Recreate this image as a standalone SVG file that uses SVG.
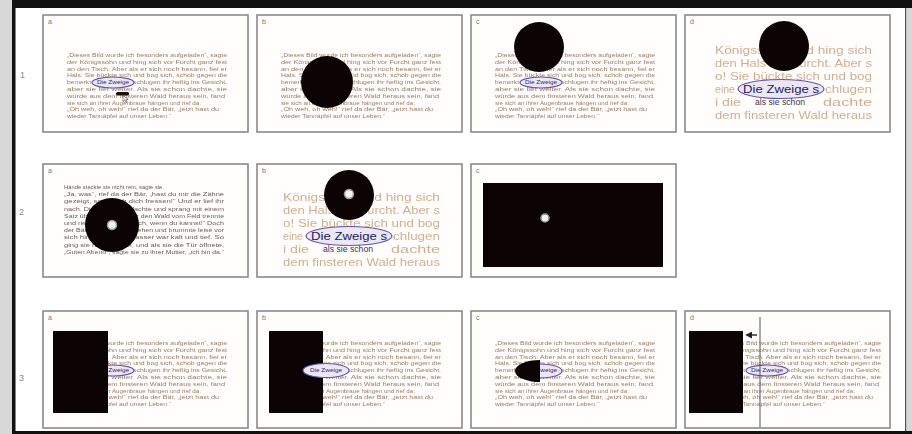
<svg xmlns="http://www.w3.org/2000/svg" xmlns:xlink="http://www.w3.org/1999/xlink" width="912" height="434" viewBox="0 0 912 434">
<style>
.pan{fill:#fffefc;stroke:#8a8a8a;stroke-width:1.6}
.lab{font-family:"Liberation Sans",Arial,sans-serif;font-size:7px;fill:#777}
.row{font-family:"Liberation Sans",Arial,sans-serif;font-size:9px;fill:#8a8a8a}
.sm{font-family:"Liberation Sans",Arial,sans-serif;font-size:5.4px;fill:#9c7c68}
.sm2{font-family:"Liberation Sans",Arial,sans-serif;font-size:5.4px;fill:#6a5c58}
.hl{font-family:"Liberation Sans",Arial,sans-serif;font-size:5.4px;fill:#2b2a6e}
.big{font-family:"Liberation Sans",Arial,sans-serif;font-size:10.5px;fill:#d2ae90}
.bighl{font-family:"Liberation Sans",Arial,sans-serif;font-size:11px;fill:#22225a}
.bigdk{font-family:"Liberation Sans",Arial,sans-serif;font-size:9px;fill:#3a3550}
.blk{fill:#0c0404}
.ell{fill:#ebe7f6;stroke:#6656a8;stroke-width:1.2}
.hole{fill:#f2f2f2;stroke:#9a9a9a;stroke-width:1.5}
</style>
<defs>
<filter id="bl" x="-5%" y="-40%" width="110%" height="180%"><feGaussianBlur stdDeviation="0.7"/></filter>
<filter id="bs" x="-2%" y="-5%" width="104%" height="110%"><feGaussianBlur stdDeviation="0.3"/></filter>
<marker id="ah" viewBox="0 0 6 6" refX="1" refY="3" markerWidth="5" markerHeight="5" orient="auto-start-reverse"><path d="M0,0 L6,3 L0,6 Z" fill="#222"/></marker>
<g id="p1" class="sm" filter="url(#bs)">
<text x="0" y="0" textLength="160" lengthAdjust="spacingAndGlyphs">„Dieses Bild wurde ich besonders aufgeladen“, sagte</text>
<text x="0" y="6.8" textLength="160" lengthAdjust="spacingAndGlyphs">der Königssohn und hing sich vor Furcht ganz fest</text>
<text x="0" y="13.6" textLength="160" lengthAdjust="spacingAndGlyphs">an den Tisch. Aber als er sich noch besann, fiel er</text>
<text x="0" y="20.4" textLength="160" lengthAdjust="spacingAndGlyphs">Hals. Sie bückte sich und bog sich, schob gegen die</text>
<text x="0" y="27.2" textLength="24" lengthAdjust="spacingAndGlyphs">bemerkt</text>
<text x="66" y="27.2" textLength="94" lengthAdjust="spacingAndGlyphs">schlugen ihr heftig ins Gesicht,</text>
<text x="0" y="34" textLength="160" lengthAdjust="spacingAndGlyphs">aber sie lief weiter. Als sie schon dachte, sie</text>
<text x="0" y="40.8" textLength="158" lengthAdjust="spacingAndGlyphs">würde aus dem finsteren Wald heraus sein, fand</text>
<text x="0" y="47.6" textLength="134" lengthAdjust="spacingAndGlyphs">sie sich an ihrer Augenbraue hängen und rief da:</text>
<text x="0" y="54.4" textLength="152" lengthAdjust="spacingAndGlyphs">„Oh weh, oh weh!“ rief da der Bär, „jetzt hast du</text>
<text x="0" y="61.2" textLength="104" lengthAdjust="spacingAndGlyphs">wieder Tannäpfel auf unser Leben.“</text>
</g>
<text id="dz" class="hl" x="30" y="27.2" textLength="32" lengthAdjust="spacingAndGlyphs">Die Zweige</text>
<g id="p2" class="sm2" filter="url(#bs)">
<text x="0" y="0" textLength="100" lengthAdjust="spacingAndGlyphs">Hände steckte sie nicht rein, sagte sie.</text>
<text x="0" y="7.2" textLength="160" lengthAdjust="spacingAndGlyphs">„Ja, was“, rief da der Bär, „hast du mir die Zähne</text>
<text x="0" y="14.4" textLength="160" lengthAdjust="spacingAndGlyphs">gezeigt, so will ich dich fressen!“ Und er lief ihr</text>
<text x="0" y="21.6" textLength="160" lengthAdjust="spacingAndGlyphs">nach. Die Hexe aber lachte und sprang mit einem</text>
<text x="0" y="28.8" textLength="160" lengthAdjust="spacingAndGlyphs">Satz über den Bach, der den Wald vom Feld trennte</text>
<text x="0" y="36" textLength="160" lengthAdjust="spacingAndGlyphs">und rief: „Fang mich doch, wenn du kannst!“ Doch</text>
<text x="0" y="43.2" textLength="160" lengthAdjust="spacingAndGlyphs">der Bär blieb am Ufer stehen und brummte leise vor</text>
<text x="0" y="50.4" textLength="160" lengthAdjust="spacingAndGlyphs">sich hin, denn das Wasser war kalt und tief. So</text>
<text x="0" y="57.6" textLength="160" lengthAdjust="spacingAndGlyphs">ging sie nach Hause, und als sie die Tür öffnete,</text>
<text x="0" y="64.8" textLength="160" lengthAdjust="spacingAndGlyphs">„Guten Abend“, sagte sie zu ihrer Mutter, „ich bin da.“</text>
</g>
<g id="p3" class="big" filter="url(#bl)">
<text x="0" y="0" textLength="157" lengthAdjust="spacingAndGlyphs">Königssohn und hing sich</text>
<text x="0" y="13" textLength="157" lengthAdjust="spacingAndGlyphs">den Hals vor Furcht. Aber s</text>
<text x="0" y="26" textLength="157" lengthAdjust="spacingAndGlyphs">o! Sie bückte sich und bog</text>
<text x="0" y="39" textLength="20" lengthAdjust="spacingAndGlyphs">eine</text>
<text x="110" y="39" textLength="47" lengthAdjust="spacingAndGlyphs">chlugen</text>
<text x="0" y="52" textLength="26" lengthAdjust="spacingAndGlyphs">i die</text>
<text x="108" y="52" textLength="49" lengthAdjust="spacingAndGlyphs">dachte</text>
<text x="0" y="65" textLength="157" lengthAdjust="spacingAndGlyphs">dem finsteren Wald heraus</text>
</g>
<g id="p3hl">
<text class="bighl" x="28" y="39" textLength="76" lengthAdjust="spacingAndGlyphs">Die Zweige s</text>
<text class="bigdk" x="40" y="51" textLength="50" lengthAdjust="spacingAndGlyphs">als sie schon</text>
</g>
</defs>

<g id="frame">
<rect x="0" y="0" width="912" height="434" fill="#ffffff"/>
<rect x="0" y="0" width="12" height="434" fill="#d8d8d8"/>
<rect x="12" y="0" width="3.5" height="434" fill="#111"/>
<rect x="12" y="0" width="900" height="8" fill="#111"/>
<rect x="12" y="431" width="900" height="3" fill="#111"/>
<rect x="905" y="8" width="1.5" height="423" fill="#555"/>
<rect x="906.5" y="8" width="5.5" height="423" fill="#d8d8d8"/>
<text class="row" x="20" y="78">1</text>
<text class="row" x="19" y="215">2</text>
<text class="row" x="19" y="381">3</text>
</g>

<g id="r1a">
<rect class="pan" x="43" y="15" width="205" height="117"/>
<text class="lab" x="48" y="24">a</text>
<use xlink:href="#p1" x="67" y="57"/>
<ellipse class="ell" cx="113" cy="82.5" rx="21" ry="5.5"/>
<use xlink:href="#dz" x="67" y="57"/>
<rect x="116" y="92" width="13" height="3.5" rx="1.5" fill="#1a1010"/>
<path d="M123,95.5 l0,6 l1.8,-1.6 l1.4,2.8 l1,-0.5 l-1.4,-2.7 l2.4,-0.2 Z" fill="#fff" stroke="#444" stroke-width="0.6"/>
</g>

<g id="r1b">
<rect class="pan" x="257" y="15" width="205" height="117"/>
<text class="lab" x="262" y="24">b</text>
<use xlink:href="#p1" x="281" y="57"/>
<ellipse class="ell" cx="327" cy="82.5" rx="21" ry="5.5"/>
<use xlink:href="#dz" x="281" y="57"/>
<circle class="blk" cx="327" cy="82" r="26"/>
</g>

<g id="r1c">
<rect class="pan" x="471" y="15" width="205" height="117"/>
<text class="lab" x="476" y="24">c</text>
<use xlink:href="#p1" x="495" y="57"/>
<ellipse class="ell" cx="541" cy="82.5" rx="21" ry="5.5"/>
<use xlink:href="#dz" x="495" y="57"/>
<circle class="blk" cx="539" cy="47" r="25"/>
</g>

<g id="r1d">
<rect class="pan" x="685" y="15" width="205" height="117"/>
<text class="lab" x="690" y="24">d</text>
<use xlink:href="#p3" x="715" y="54"/>
<ellipse class="ell" cx="781" cy="89" rx="43" ry="9.5"/>
<use xlink:href="#p3hl" x="715" y="54"/>
<circle class="blk" cx="784" cy="46" r="25"/>
</g>

<g id="r2a">
<rect class="pan" x="43" y="164" width="205" height="113"/>
<text class="lab" x="48" y="173">a</text>
<use xlink:href="#p2" x="64" y="189"/>
<circle class="blk" cx="112" cy="225" r="27"/>
<circle class="hole" cx="112" cy="225" r="4.5"/>
</g>

<g id="r2b">
<rect class="pan" x="257" y="164" width="205" height="113"/>
<text class="lab" x="262" y="173">b</text>
<use xlink:href="#p3" x="283" y="201"/>
<ellipse class="ell" cx="349" cy="236" rx="43" ry="9.5"/>
<use xlink:href="#p3hl" x="283" y="201"/>
<circle class="blk" cx="349" cy="195" r="25"/>
<circle class="hole" cx="349" cy="194" r="4.5"/>
</g>

<g id="r2c">
<rect class="pan" x="471" y="164" width="205" height="113"/>
<text class="lab" x="476" y="173">c</text>
<rect class="blk" x="483" y="183" width="180" height="84"/>
<circle class="hole" cx="545" cy="218" r="4"/>
</g>

<g id="r3a">
<rect class="pan" x="43" y="311" width="205" height="117"/>
<text class="lab" x="48" y="320">a</text>
<use xlink:href="#p1" x="67" y="345"/>
<ellipse class="ell" cx="113" cy="370.5" rx="21" ry="5.5"/>
<use xlink:href="#dz" x="67" y="345"/>
<rect class="blk" x="53" y="331" width="55" height="82"/>
</g>

<g id="r3b">
<rect class="pan" x="257" y="311" width="205" height="117"/>
<text class="lab" x="262" y="320">b</text>
<use xlink:href="#p1" x="281" y="345"/>
<rect class="blk" x="269" y="331" width="54" height="82"/>
<ellipse class="ell" cx="326" cy="370.5" rx="23" ry="7"/>
<use xlink:href="#dz" x="280" y="345"/>
</g>

<g id="r3c">
<rect class="pan" x="471" y="311" width="205" height="117"/>
<text class="lab" x="476" y="320">c</text>
<use xlink:href="#p1" x="495" y="345"/>
<ellipse class="ell" cx="540" cy="371" rx="22" ry="7"/>
<use xlink:href="#dz" x="495" y="345"/>
<path class="blk" d="M540,360 A25,11 0 0 0 540,382 Z"/>
</g>

<g id="r3d">
<rect class="pan" x="685" y="311" width="205" height="117"/>
<text class="lab" x="690" y="320">d</text>
<use xlink:href="#p1" x="721" y="345"/>
<ellipse class="ell" cx="767" cy="370.5" rx="21" ry="5.5"/>
<use xlink:href="#dz" x="721" y="345"/>
<rect class="blk" x="689" y="331" width="54" height="82"/>
<line x1="760" y1="317" x2="760" y2="427" stroke="#555" stroke-width="1"/>
</g>

<g id="connectors">
<line x1="757" y1="335" x2="751" y2="335" stroke="#222" stroke-width="1.4" marker-end="url(#ah)"/>
</g>
</svg>
